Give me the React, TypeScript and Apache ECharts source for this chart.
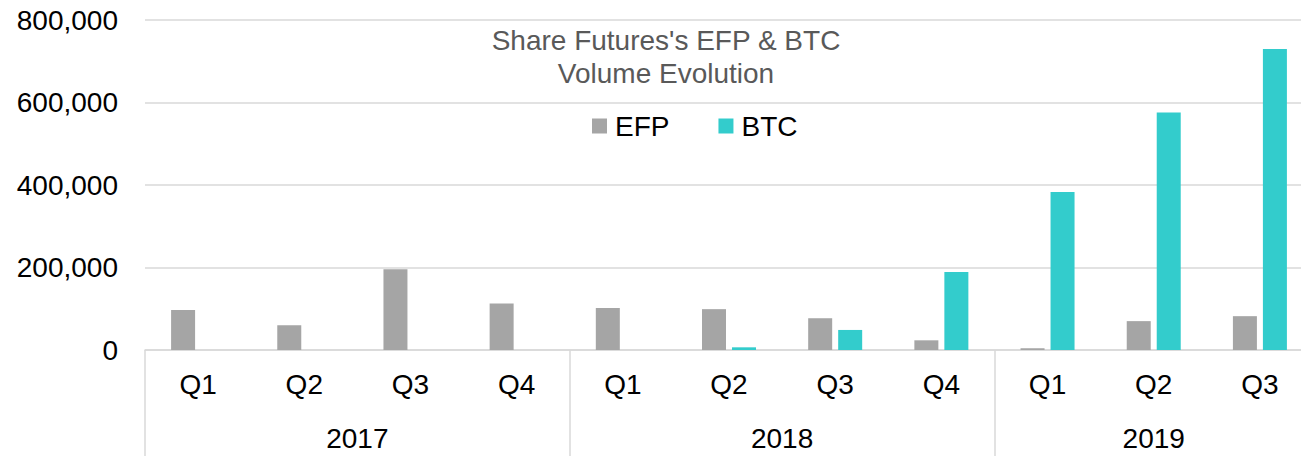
import React, { useEffect, useRef } from "react";
import * as echarts from "echarts";

const quarters = ["Q1", "Q2", "Q3", "Q4", "Q1", "Q2", "Q3", "Q4", "Q1", "Q2", "Q3"];
const years = ["2017", "2018", "2019"];
const yearSpans = [4, 4, 3];
const efp = [97000, 60000, 196000, 113000, 102000, 99000, 77000, 23500, 4000, 70000, 82000];
const btc = [0, 0, 0, 0, 0, 6500, 48600, 189000, 383000, 576000, 730000];
const yTicks = [0, 200000, 400000, 600000, 800000];

const FONT = "'Liberation Sans', Arial, sans-serif";

export default function App() {
  const ref = useRef<HTMLDivElement>(null);
  useEffect(() => {
    document.body.style.margin = "0";
    const chart = echarts.init(ref.current!, null, { renderer: "svg" });
    const bounds: number[] = [0];
    const centers: number[] = [];
    let acc = 0;
    yearSpans.forEach((s) => {
      centers.push(acc + s / 2);
      acc += s;
      bounds.push(acc);
    });
    chart.setOption({
      animation: false,
      textStyle: { fontFamily: FONT },
      title: {
        text: "Share Futures's EFP & BTC\nVolume Evolution",
        left: 666,
        top: 24,
        padding: 0,
        textAlign: "center",
        textStyle: { fontFamily: FONT, fontSize: 28, fontWeight: "normal", color: "#595959", lineHeight: 33 },
      },
      legend: {
        data: ["EFP", "BTC"],
        left: 592,
        top: 112,
        padding: 0,
        itemGap: 49,
        itemWidth: 15,
        itemHeight: 15,
        icon: "rect",
        textStyle: { fontFamily: FONT, fontSize: 28, color: "#000", padding: [0, 0, 0, 3] },
      },
      grid: { left: 145, top: 20, height: 330, width: 1168, outerBoundsMode: "none", containLabel: false },
      xAxis: [
        {
          type: "category",
          data: quarters,
          position: "bottom",
          axisLine: { show: true, lineStyle: { color: "#d9d9d9", width: 1.5 } },
          axisTick: { show: false },
          axisLabel: { fontFamily: FONT, fontSize: 28, color: "#000", margin: 20 },
          splitLine: { show: false },
        },
        {
          type: "value",
          min: 0,
          max: quarters.length,
          position: "bottom",
          axisLine: { show: false },
          splitLine: { show: false },
          axisTick: {
            show: true,
            customValues: bounds,
            length: 106,
            lineStyle: { color: "#d9d9d9", width: 1.5 },
          },
          axisLabel: {
            show: true,
            customValues: centers,
            margin: 74,
            fontFamily: FONT,
            fontSize: 28,
            color: "#000",
            formatter: (v: number) => {
              const i = centers.findIndex((c) => Math.abs(c - v) < 1e-6);
              return i >= 0 ? years[i] : "";
            },
          },
        },
      ],
      yAxis: {
        type: "value",
        min: 0,
        max: yTicks[yTicks.length - 1],
        interval: 200000,
        axisLine: { show: false },
        axisTick: { show: false },
        splitLine: { lineStyle: { color: "#d9d9d9", width: 1.5 } },
        axisLabel: {
          fontFamily: FONT,
          fontSize: 28,
          color: "#000",
          margin: 27,
          formatter: (v: number) => v.toLocaleString("en-US"),
        },
      },
      series: [
        {
          name: "EFP",
          type: "bar",
          data: efp,
          xAxisIndex: 0,
          barWidth: 24,
          barGap: "25%",
          itemStyle: { color: "#A5A5A5" },
        },
        {
          name: "BTC",
          type: "bar",
          data: btc,
          xAxisIndex: 0,
          barWidth: 24,
          barGap: "25%",
          itemStyle: { color: "#33CCCC" },
        },
      ],
    });
    return () => chart.dispose();
  }, []);
  return <div ref={ref} style={{ width: 1301, height: 456 }} />;
}
